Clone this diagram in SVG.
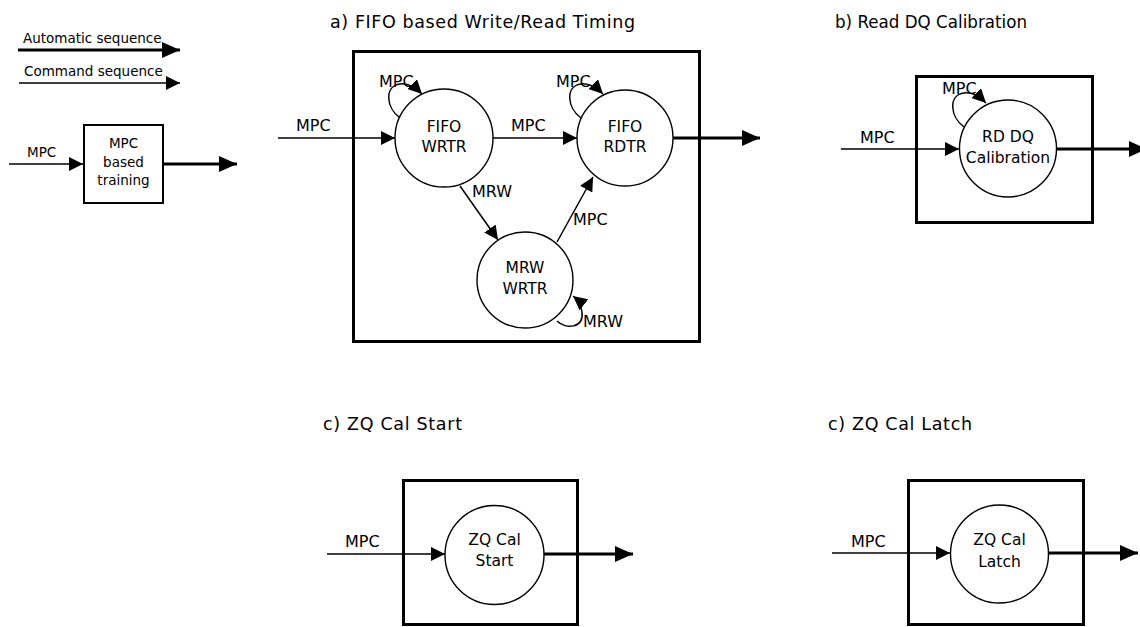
<svg xmlns="http://www.w3.org/2000/svg" width="1140" height="627" viewBox="0 0 1140 627">
<style>
text{font-family:"DejaVu Sans","Liberation Sans",sans-serif;fill:#000}
.title{font-size:17.5px}
.lbl{font-size:16px}
.node{font-size:15.5px;text-anchor:middle}
.small{font-size:13.5px}
.smallc{font-size:13.5px;text-anchor:middle}
.box{fill:none;stroke:#000;stroke-width:3}
.sbox{fill:#fff;stroke:#000;stroke-width:2}
.circ{fill:#fff;stroke:#000;stroke-width:1.4}
.thin{fill:none;stroke:#000;stroke-width:1.5;marker-end:url(#hThin)}
.thick{fill:none;stroke:#000;stroke-width:3;marker-end:url(#hThick)}
</style>
<defs>
<marker id="hThin" viewBox="0 0 14 14" refX="14" refY="7" markerWidth="14" markerHeight="14" markerUnits="userSpaceOnUse" orient="auto"><path d="M0,0 L14,7 L0,14 Z" fill="#000"/></marker>
<marker id="hThick" viewBox="0 0 18 16" refX="18" refY="8" markerWidth="18" markerHeight="16" markerUnits="userSpaceOnUse" orient="auto"><path d="M0,0 L18,8 L0,16 Z" fill="#000"/></marker>
</defs>

<!-- titles -->
<g id="titles">
<text class="title" x="330" y="28" textLength="305" lengthAdjust="spacing">a) FIFO based Write/Read Timing</text>
<text class="title" x="835" y="28" textLength="192" lengthAdjust="spacingAndGlyphs">b) Read DQ Calibration</text>
<text class="title" x="323" y="430" textLength="139" lengthAdjust="spacing">c) ZQ Cal Start</text>
<text class="title" x="828" y="430" textLength="144" lengthAdjust="spacing">c) ZQ Cal Latch</text>
</g>

<!-- legend -->
<g id="legend">
<text class="small" x="23" y="43">Automatic sequence</text>
<path class="thick" d="M18,50 H180"/>
<text class="small" x="24" y="76">Command sequence</text>
<path class="thin" d="M19,83 H180"/>
</g>

<!-- frames -->
<g id="frames">
<rect class="box" x="353.5" y="51.5" width="346" height="290"/>
<rect class="box" x="916.5" y="76.5" width="176" height="146"/>
<rect class="box" x="403.5" y="480.5" width="174" height="144"/>
<rect class="box" x="908.5" y="480.5" width="175" height="144"/>
</g>

<!-- nodes -->
<g id="node-mpc-training">
<rect class="sbox" x="84" y="125" width="79" height="78"/>
<text class="smallc" x="123.5" y="148">MPC</text>
<text class="smallc" x="123.5" y="167">based</text>
<text class="smallc" x="123.5" y="185">training</text>
</g>
<g id="node-fifo-wrtr">
<circle class="circ" cx="444" cy="138" r="49"/>
<text class="node" x="444" y="132">FIFO</text>
<text class="node" x="444" y="152">WRTR</text>
</g>
<g id="node-fifo-rdtr">
<circle class="circ" cx="625" cy="138" r="48"/>
<text class="node" x="625" y="132">FIFO</text>
<text class="node" x="625" y="152">RDTR</text>
</g>
<g id="node-mrw-wrtr">
<circle class="circ" cx="525" cy="280" r="48"/>
<text class="node" x="525" y="273">MRW</text>
<text class="node" x="525" y="294">WRTR</text>
</g>
<g id="node-rd-dq">
<circle class="circ" cx="1008" cy="148.5" r="48.5"/>
<text class="node" x="1008" y="142">RD DQ</text>
<text class="node" x="1008" y="163">Calibration</text>
</g>
<g id="node-zq-start">
<circle class="circ" cx="494.5" cy="555" r="49.5"/>
<text class="node" x="494.5" y="545">ZQ Cal</text>
<text class="node" x="494.5" y="566">Start</text>
</g>
<g id="node-zq-latch">
<circle class="circ" cx="999.5" cy="554" r="49"/>
<text class="node" x="999.5" y="545">ZQ Cal</text>
<text class="node" x="999.5" y="567">Latch</text>
</g>

<!-- connectors -->
<g id="connectors">
<path class="thin" d="M9,164 H83"/>
<text class="small" x="27" y="157">MPC</text>
<path class="thick" d="M163,164 H237"/>

<path class="thin" d="M278,138 H395"/>
<text class="lbl" x="296" y="131">MPC</text>
<path class="thin" d="M493,138 H577"/>
<text class="lbl" x="511" y="131">MPC</text>
<path class="thick" d="M673,138 H760"/>
<path class="thin" d="M400,118 C386,108 384,86 400,84 C408,83 415,87 422,94"/>
<text class="lbl" x="379" y="87">MPC</text>
<path class="thin" d="M581,118 C567,108 565,86 581,84 C589,83 596,87 603,94"/>
<text class="lbl" x="556" y="87">MPC</text>
<path class="thin" d="M460,186 L498,240"/>
<text class="lbl" x="472" y="197">MRW</text>
<path class="thin" d="M557,242 L593,177"/>
<text class="lbl" x="573" y="225">MPC</text>
<path class="thin" d="M557,321 C566,330 584,328 582,312 C581,305 578,300 573,296"/>
<text class="lbl" x="583" y="327">MRW</text>

<path class="thin" d="M841,149 H959"/>
<text class="lbl" x="860" y="143">MPC</text>
<path class="thick" d="M1057,149 H1147"/>
<path class="thin" d="M964,127 C950,117 948,95 964,93 C972,92 979,96 986,103"/>
<text class="lbl" x="942" y="94">MPC</text>

<path class="thin" d="M327,554 H445"/>
<text class="lbl" x="345" y="547">MPC</text>
<path class="thick" d="M544,554 H633"/>

<path class="thin" d="M832,553 H950"/>
<text class="lbl" x="851" y="547">MPC</text>
<path class="thick" d="M1048,553 H1138"/>
</g>
</svg>
